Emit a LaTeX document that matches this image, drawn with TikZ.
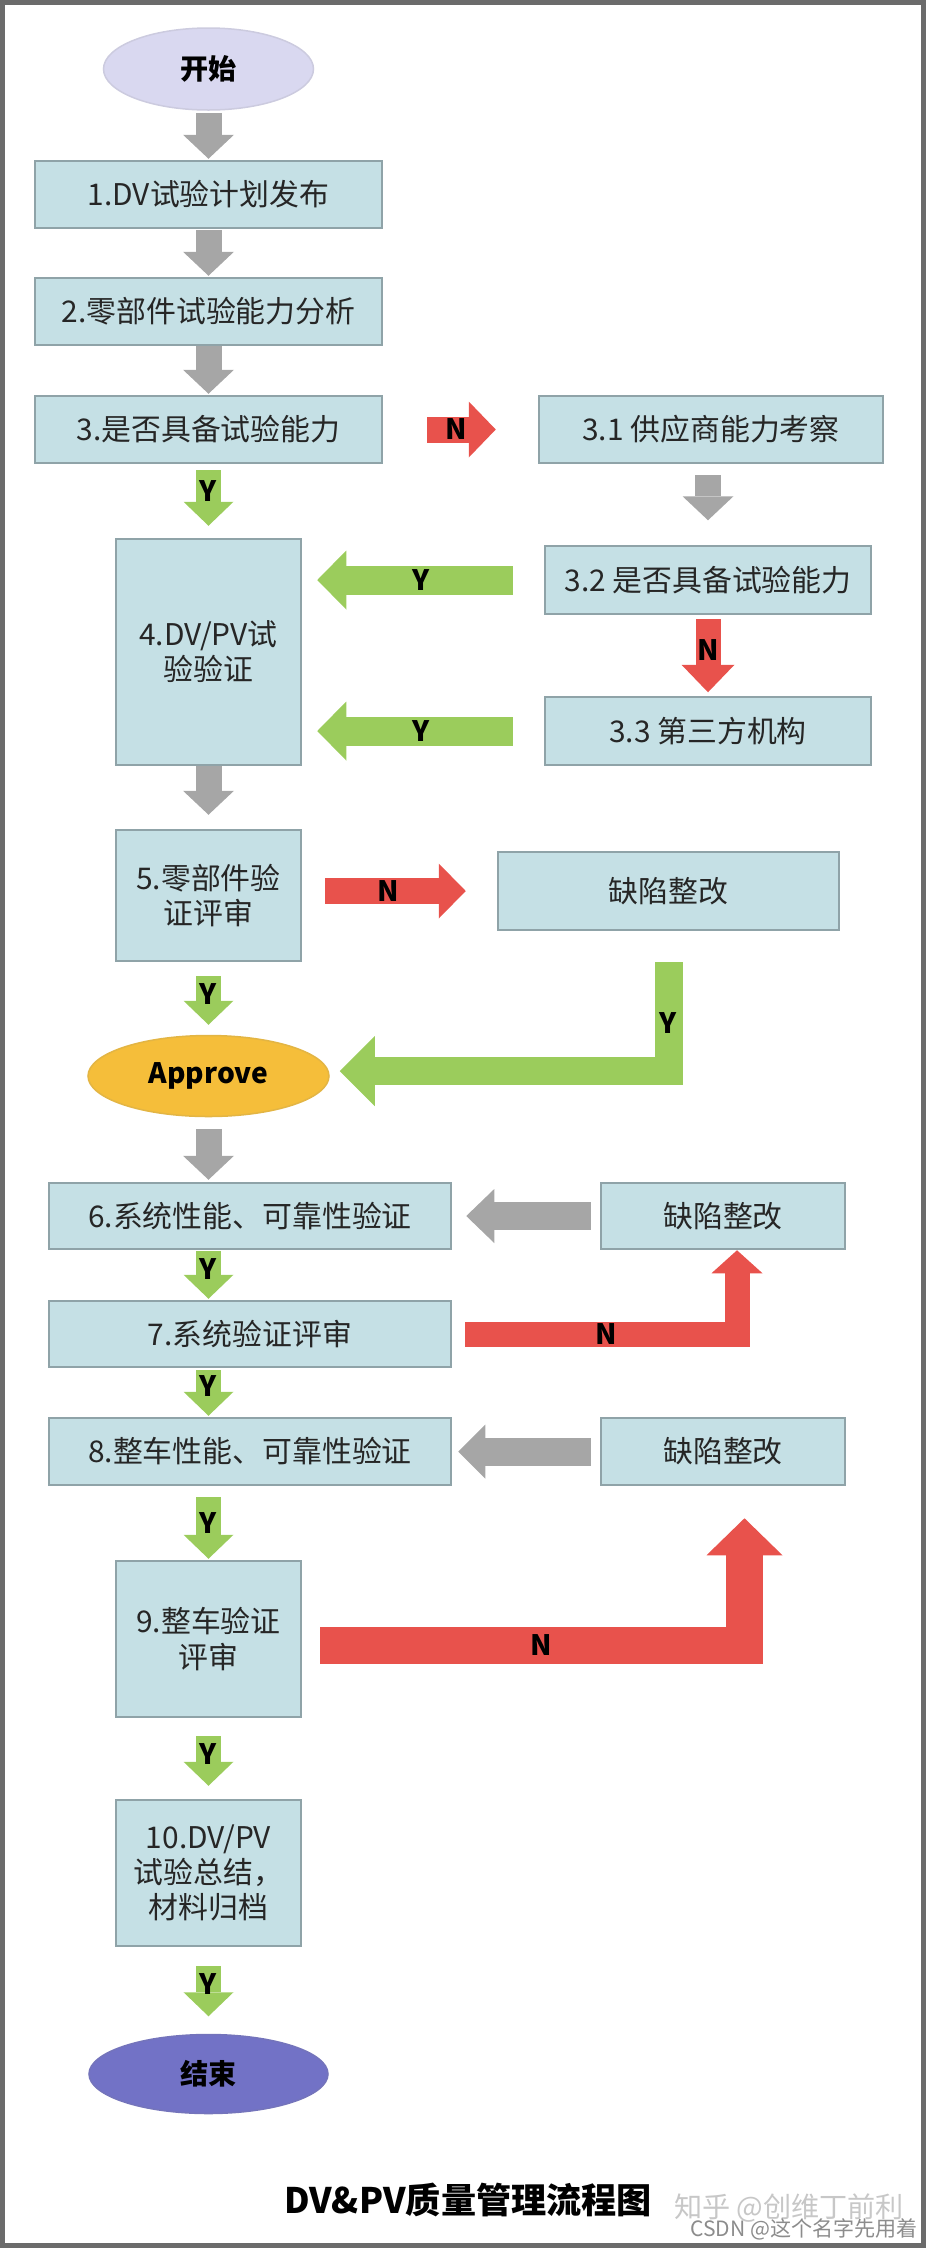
\documentclass[tikz,border=0pt]{standalone}
\usepackage{fontspec}
\setmainfont{Noto Sans CJK SC}
\usepackage{xcolor}
\definecolor{boxfill}{HTML}{C5E0E5}
\definecolor{boxline}{HTML}{8FA3A8}
\definecolor{startfill}{HTML}{D9D8F0}
\definecolor{apfill}{HTML}{F5BE3A}
\definecolor{endfill}{HTML}{7272C6}
\definecolor{agray}{HTML}{A6A6A6}
\definecolor{agreen}{HTML}{9BCC5C}
\definecolor{ared}{HTML}{E8524C}
\definecolor{framegray}{HTML}{6B6B6B}
\usetikzlibrary{shapes.geometric, arrows.meta}

\begin{document}
\begin{tikzpicture}[
  x=0.2mm, y=-0.2mm,
  proc/.style={rectangle, draw=boxline, fill=boxfill, line width=0.5mm,
    align=center, inner sep=0pt, text=black!85,
    font=\fontsize{17}{20}\selectfont},
  term/.style={ellipse, draw=#1!85!gray, fill=#1, line width=0.3mm,
    inner sep=0pt, font=\bfseries\fontsize{16}{16}\selectfont},
  fat/.style n args={3}{line width=#1,
    -{Triangle[width=#2, length=#3, line width=0pt]}},
  garr/.style={draw=agray},
  yarr/.style={draw=agreen},
  narr/.style={draw=ared},
  lbl/.style={font=\bfseries\fontsize{16}{16}\selectfont, inner sep=0pt}
]
  \useasboundingbox (0,0) rectangle (926,2248);
  \draw[framegray, line width=1mm] (2.5,2.5) rectangle (923.5,2245.5);
  \coordinate (col) at (208.5,0);

  % Left: main column
  \node[term=startfill, minimum width=42mm, minimum height=16.4mm] (start) at (208.5,69) {开始};
  \node[proc, minimum width=69.4mm, minimum height=13.4mm] (b1) at (208.5,194.5) {1.DV试验计划发布};
  \node[proc, minimum width=69.4mm, minimum height=13.4mm] (b2) at (208.5,311.5) {2.零部件试验能力分析};
  \node[proc, minimum width=69.4mm, minimum height=13.4mm] (b3) at (208.5,429.5) {3.是否具备试验能力};
  \node[proc, minimum width=37mm, minimum height=45.2mm] (b4) at (208.5,652) {4.DV/PV试\\验验证};
  \node[proc, minimum width=37mm, minimum height=26.2mm] (b5) at (208.5,895.5) {5.零部件验\\证评审};
  \node[term=apfill, minimum width=48.2mm, minimum height=16.2mm] (approve) at (208.5,1076) {Approve};
  \node[proc, minimum width=80.4mm, minimum height=13.2mm] (b6) at (250,1216) {6.系统性能、可靠性验证};
  \node[proc, minimum width=80.4mm, minimum height=13.2mm] (b7) at (250,1334) {7.系统验证评审};
  \node[proc, minimum width=80.4mm, minimum height=13.4mm] (b8) at (250,1451.5) {8.整车性能、可靠性验证};
  \node[proc, minimum width=37mm, minimum height=31.2mm] (b9) at (208.5,1639) {9.整车验证\\评审};
  \node[proc, minimum width=37mm, minimum height=29.2mm] (b10) at (208.5,1873) {10.DV/PV\\试验总结，\\材料归档};
  \node[term=endfill, minimum width=47.8mm, minimum height=15.8mm] (stop) at (208.5,2074) {结束};

  % Right: supplier and rework boxes
  \node[proc, minimum width=68.8mm, minimum height=13.4mm] (b31) at (711,429.5) {3.1 供应商能力考察};
  \node[proc, minimum width=65.2mm, minimum height=13.6mm] (b32) at (708,580) {3.2 是否具备试验能力};
  \node[proc, minimum width=65.2mm, minimum height=13.6mm] (b33) at (708,731) {3.3 第三方机构};
  \node[proc, minimum width=68.2mm, minimum height=15.6mm] (fix1) at (668.5,891) {缺陷整改};
  \node[proc, minimum width=48.8mm, minimum height=13.2mm] (fix2) at (723,1216) {缺陷整改};
  \node[proc, minimum width=48.8mm, minimum height=13.4mm] (fix3) at (723,1451.5) {缺陷整改};

  % gray arrows
  \draw[garr, fat={5.2mm}{10.2mm}{4.8mm}, shorten <=0.4mm, shorten >=0.2mm] (start) -- (b1);
  \draw[garr, fat={5.2mm}{10.2mm}{4.8mm}, shorten <=0.2mm, shorten >=0.2mm] (b1) -- (b2);
  \draw[garr, fat={5.2mm}{10.2mm}{4.8mm}, shorten >=0.2mm] (b2) -- (b3);
  \draw[garr, fat={5.2mm}{10.2mm}{4.8mm}, shorten >=2.8mm] (b4) -- (b5);
  \draw[garr, fat={5.2mm}{10.2mm}{4.8mm}, shorten <=2.3mm, shorten >=0.4mm] (approve) -- (b6.north -| col);
  \draw[garr, fat={5.2mm}{10.2mm}{4.8mm}, shorten <=2.2mm, shorten >=4.9mm] (b31.south -| b32) -- (b32);
  \draw[garr, fat={5.6mm}{10.8mm}{5.6mm}, shorten <=1.8mm, shorten >=2.8mm] (fix2) -- (b6);
  \draw[garr, fat={5.6mm}{10.8mm}{5.4mm}, shorten <=1.8mm, shorten >=1.2mm] (fix3) -- (b8);

  % green arrows
  \draw[yarr, fat={5mm}{10mm}{4.8mm}, shorten <=1.2mm, shorten >=2.4mm] (b3) -- node[lbl, pos=.37] {Y} (b4);
  \draw[yarr, fat={5.8mm}{11.8mm}{5.8mm}, shorten <=6.2mm, shorten >=3mm] (b32.west) -- node[lbl, pos=.51] {Y} (b32.west -| b4.east);
  \draw[yarr, fat={5.8mm}{11.8mm}{5.8mm}, shorten <=6.2mm, shorten >=3mm] (b33.west) -- node[lbl, pos=.51] {Y} (b33.west -| b4.east);
  \draw[yarr, fat={5mm}{10mm}{4.8mm}, shorten <=2.8mm, shorten >=2mm] (b5) -- node[lbl, pos=.44] {Y} (approve);
  \draw[yarr, fat={5.6mm}{14mm}{7mm}, shorten <=6.2mm, shorten >=2mm] (fix1.south) |- node[lbl, pos=.33] {Y} ([yshift=1mm]approve.east);
  \draw[yarr, fat={5mm}{10mm}{4.8mm}, shorten <=0.2mm, shorten >=0.2mm] (b6.south -| col) -- node[lbl, pos=.37] {Y} (b7.north -| col);
  \draw[yarr, fat={5mm}{10mm}{4.8mm}, shorten <=0.4mm, shorten >=0.2mm] (b7.south -| col) -- node[lbl, pos=.37] {Y} (b8.north -| col);
  \draw[yarr, fat={5mm}{10mm}{4.8mm}, shorten <=2.2mm, shorten >=0.2mm] (b8.south -| col) -- node[lbl, pos=.5] {Y} (b9);
  \draw[yarr, fat={5mm}{10mm}{4.8mm}, shorten <=3.6mm, shorten >=2.6mm] (b9) -- node[lbl, pos=.45] {Y} (b10);
  \draw[yarr, fat={5mm}{10mm}{4.8mm}, shorten <=3.8mm, shorten >=3.5mm] (b10) -- node[lbl, pos=.42] {Y} (stop);

  % red arrows
  \draw[narr, fat={5.2mm}{11.2mm}{5.4mm}, shorten <=8.8mm, shorten >=8.4mm] (b3) -- node[lbl, pos=.47] {N} (b31);
  \draw[narr, fat={5mm}{10.6mm}{5.5mm}, shorten <=0.8mm, shorten >=0.7mm] (b32) -- node[lbl, pos=.43] {N} (b33);
  \draw[narr, fat={5.3mm}{11mm}{5.4mm}, shorten <=4.6mm, shorten >=6.2mm] (b5.east |- fix1) -- node[lbl, pos=.44] {N} (fix1);
  \draw[narr, fat={5mm}{10.2mm}{4.6mm}, shorten <=2.6mm] (b7.east) -| node[lbl, pos=.27] {N} ([xshift=2.8mm]fix2.south);
  \draw[narr, fat={7.4mm}{15.2mm}{7.4mm}, shorten <=3.6mm, shorten >=6.4mm] ([yshift=-1.3mm]b9.east) -| node[lbl, pos=.27] {N} ([xshift=4.3mm]fix3.south);

  % title and marks
  \node[font=\bfseries\fontsize{20}{20}\selectfont] (title) at (468,2200) {DV\&PV质量管理流程图};
  \node[font=\fontsize{16}{16}\selectfont, text=black!22] (wm1) at (789,2208) {知乎 @创维丁前利};
  \node[font=\fontsize{12}{12}\selectfont, text=black!45] (wm2) at (804,2229) {CSDN @这个名字先用着};
\end{tikzpicture}
\end{document}
